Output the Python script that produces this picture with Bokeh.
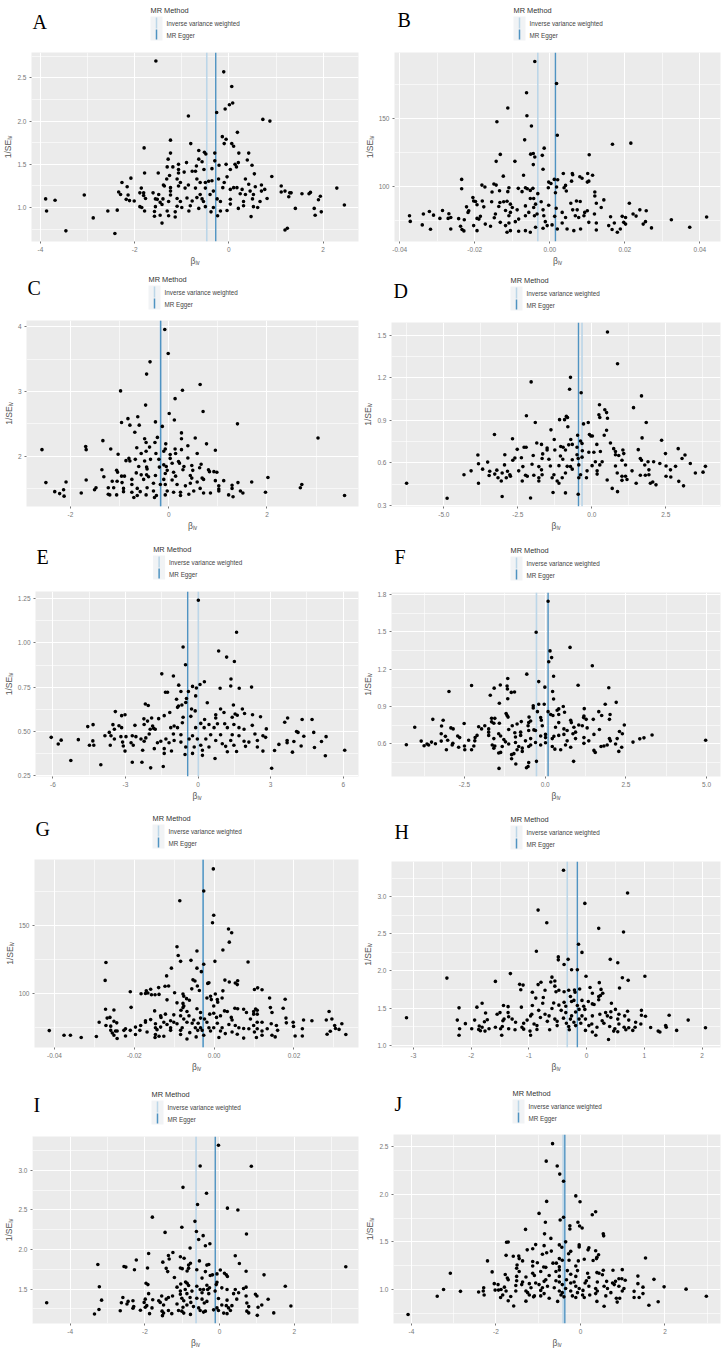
from bokeh.core.properties import value
from bokeh.embed import file_html
from bokeh.layouts import column, row
from bokeh.models import FixedTicker, Span
from bokeh.plotting import figure
from bokeh.resources import INLINE

# (beta_iv, 1/se_iv), one list per panel
A_POINTS = [(-1.55,2.695),(-.11,2.57),(.06,2.40),(.08,2.21),(.01,2.19),(-.08,2.14),(-.26,2.10),(-.86,2.06),(.72,2.02),(.87,2.00),(.18,1.87),(-.14,1.82),(-.06,1.79),(-1.24,1.78),(-.81,1.74),(-1.80,1.69),(-.10,1.74),(.06,1.74),(.10,1.71),(-.64,1.66),(-.52,1.64),(-.49,1.62),(-.30,1.63),(-1.24,1.63),(.21,1.63),(.42,1.63),(-1.29,1.56),(-.64,1.56),(-.57,1.53),(-.90,1.52),(.39,1.55),(.20,1.52),(.13,1.50),(-.06,1.50),(.49,1.49),(-.21,1.49),(-.30,1.54),(-1.07,1.50),(-1.31,1.47),(-1.19,1.47),(-.69,1.48),(.16,1.47),(.03,1.44),(-.36,1.45),(-.53,1.44),(-1.07,1.44),(-.95,1.41),(-.78,1.42),(-.71,1.42),(-1.79,1.40),(-1.50,1.40),(-1.07,1.40),(.54,1.39),(-1.26,1.37),(-2.08,1.34),(.91,1.36),(-.04,1.355),(.35,1.33),(-1.32,1.33),(-1.10,1.33),(-.68,1.33),(-.22,1.33),(-2.27,1.29),(-1.39,1.26),(-1.03,1.29),(-.61,1.29),(-.50,1.29),(-.36,1.31),(-.43,1.305),(-.10,1.29),(-2.16,1.24),(-1.37,1.25),(-1.07,1.25),(-.86,1.26),(.42,1.27),(.69,1.26),(.56,1.24),(-.13,1.23),(.10,1.23),(.17,1.23),(1.11,1.25),(2.29,1.225),(-1.86,1.225),(-1.24,1.23),(-.93,1.225),(-.71,1.225),(-.50,1.225),(.03,1.21),(.28,1.21),(.76,1.21),(.45,1.19),(-2.34,1.18),(-1.89,1.17),(-1.81,1.17),(-1.61,1.17),(-1.24,1.19),(-.33,1.19),(.69,1.19),(1.19,1.19),(1.11,1.18),(1.29,1.17),(1.32,1.17),(1.55,1.16),(1.70,1.16),(1.73,1.175),(-2.30,1.15),(-3.07,1.145),(-2.14,1.145),(-1.81,1.14),(-1.49,1.15),(-1.24,1.145),(-.61,1.15),(-.40,1.15),(.24,1.16),(.52,1.15),(.35,1.15),(1.94,1.13),(1.27,1.125),(-1.77,1.105),(-2.18,1.095),(-3.89,1.10),(-3.69,1.085),(-1.56,1.10),(-1.52,1.095),(-1.40,1.10),(-1.10,1.105),(-.89,1.11),(-.68,1.115),(-.57,1.10),(-.25,1.10),(.03,1.095),(.50,1.10),(.81,1.105),(1.90,1.09),(-2.11,1.08),(-2.01,1.075),(-1.46,1.06),(-1.28,1.07),(-1.03,1.07),(-.78,1.075),(-.54,1.07),(.31,1.07),(.66,1.07),(-.18,1.07),(-1.89,1.01),(-1.85,1.0),(-1.79,.96),(-1.56,1.01),(-1.42,1.035),(-1.10,1.015),(-1.00,1.0),(-.82,1.02),(-.64,.99),(-.50,1.01),(-.33,1.0),(.03,1.04),(.20,.99),(.31,1.02),(.52,1.01),(.61,1.0),(1.41,.99),(1.81,.99),(2.45,1.03),(-3.87,.96),(-2.57,.96),(-2.37,.97),(-1.58,.955),(-1.31,.96),(-1.14,.95),(-.85,.96),(-.38,.95),(-.18,.96),(-.04,.965),(1.96,.95),(1.83,.91),(-1.58,.90),(-1.46,.91),(-1.28,.905),(-1.14,.89),(-.24,.905),(.47,.895),(-2.88,.88),(-1.42,.82),(-3.46,.73),(-2.42,.70),(1.19,.74),(1.24,.76)]

B_POINTS = [(-.004,191.7),(.0018,175.5),(-.0062,168.7),(-.0112,157.5),(-.0061,151.7),(-.0141,147.3),(-.0049,144.2),(.002,137.4),(-.0067,134),(.0167,130.8),(.0216,131.6),(-.0015,127.9),(-.0132,123.3),(-.0051,123.5),(-.0044,124),(-.004,121.4),(-.002,122.6),(.0105,123),(-.0143,118.2),(-.0093,118.2),(-.0044,115.8),(-.0018,112.4),(-.0124,107.3),(-.007,108),(.0036,109.2),(.006,109.2),(.0061,108.3),(.008,106.8),(.0086,105.8),(.0101,109.2),(.0114,108),(-.0235,104.9),(-.0235,98),(-.0181,100.7),(-.0173,99.3),(-.0149,101.5),(-.0143,100.7),(-.0003,102.9),(.0003,101.9),(.0012,104.9),(.0021,104.6),(.0058,103.6),(.01,102.9),(.0104,103.6),(-.0004,98.8),(.0018,99.3),(.0042,100.5),(.0038,98.8),(.012,95.6),(.012,92.7),(.0144,89.8),(.0124,87.4),(.0212,87.4),(-.0134,96.6),(-.0154,95.6),(-.0109,98.8),(-.0112,95.9),(-.0084,98.3),(-.0074,95.9),(-.0065,98.8),(-.006,98),(-.0045,98.3),(-.0052,96.8),(-.0032,94.4),(.0044,96.4),(.0015,95.1),(-.0205,91.5),(-.0203,89),(-.0198,88.6),(-.018,89),(-.0155,88.4),(-.0133,87.9),(-.0123,88.4),(-.0114,88.8),(-.0105,86.7),(-.0052,90.8),(-.0043,90.8),(-.0023,88.4),(-.0038,86.7),(.0056,87.4),(.0071,89),(.0081,88.6),(-.0222,84.7),(-.0194,86.2),(-.0176,84.7),(-.0136,85),(-.01,84.2),(-.0087,82.5),(-.0065,85.4),(-.0043,84.2),(-.0003,85.9),(.0017,83.7),(.0061,82.5),(.0073,82.5),(.01,81.8),(.0137,84.2),(-.0216,81.8),(-.0218,80.6),(-.0118,82),(-.0105,80.6),(-.0056,80.6),(-.0018,82.5),(.0033,80.6),(.0093,80.6),(.0119,79.4),(.024,82.5),(.0257,81.8),(-.0374,78.2),(-.0337,79.4),(-.0321,81.3),(-.031,78.6),(-.0286,82),(-.0269,79.6),(-.0372,74),(-.0293,76.2),(-.0271,76.2),(-.0264,76.9),(-.0243,76),(-.0228,75.2),(-.0194,76.2),(-.0189,75.7),(-.0185,77.7),(-.0145,79.4),(-.0148,76.7),(-.0109,78.2),(-.0083,75.7),(-.0065,78.2),(-.0041,78.2),(-.0034,79.4),(-.0016,78.2),(.0013,77.7),(.0042,76.9),(.0068,78.2),(.0077,76.9),(.0091,78.2),(.0162,77.4),(.0193,77.7),(.0222,79.4),(.023,77.9),(.0202,76.9),(.0418,77.2),(.0324,75.2),(-.034,71.4),(-.0318,68.2),(-.0264,68.4),(-.0238,70.4),(-.0234,68),(-.0229,67),(-.0203,70.9),(-.0194,67.2),(-.0172,72),(-.0158,70.4),(-.0132,73.3),(-.0118,70.9),(-.0114,66),(-.0105,67.2),(-.0083,66.7),(-.0065,67.2),(-.0052,66),(-.0038,69.7),(-.0018,68.9),(-.0007,70.9),(.0006,71.4),(.002,68.4),(.0033,72.8),(.0046,68.4),(.0064,67.2),(.0082,68.4),(.0104,73.3),(.0124,72.8),(.0124,67.7),(.0157,70.9),(.0166,68),(.018,66),(.0188,68.4),(.0172,72.8),(.0249,72),(.0255,73.8),(.0271,69.2),(.0373,69.7),(.0197,73.3),(.0202,72),(-.0012,73.8),(-.0109,72.8),(-.0092,73.8)]

C_POINTS = [(-.08,3.96),(-.01,3.59),(-.38,3.46),(-.45,3.27),(-.98,3.01),(.28,3.02),(.64,3.11),(.13,2.89),(-.47,2.79),(.70,2.69),(.01,2.66),(-.63,2.61),(-.83,2.58),(.115,2.56),(-.96,2.52),(-.27,2.53),(-.79,2.48),(-.60,2.48),(1.40,2.50),(-.13,2.46),(-.69,2.37),(.26,2.36),(-.49,2.27),(-.23,2.29),(.26,2.27),(.54,2.28),(-1.34,2.24),(-.46,2.21),(-.28,2.21),(.77,2.19),(-.06,2.19),(-.39,2.14),(-.65,2.13),(.39,2.16),(-1.69,2.15),(-1.68,2.10),(-2.58,2.10),(-1.18,2.11),(-.07,2.11),(.13,2.11),(.26,2.10),(.95,2.09),(-.46,2.075),(-1.03,2.03),(-.56,2.04),(-.26,2.04),(-.10,2.075),(.58,2.04),(.03,2.025),(.14,2.04),(3.04,2.28),(-.81,1.965),(-.79,1.925),(-.87,1.93),(-.68,1.95),(-.49,1.925),(-.37,1.95),(-.20,1.95),(.03,1.965),(.20,1.915),(.39,1.97),(.22,1.89),(.66,1.875),(-.10,1.865),(-.05,1.84),(.07,1.89),(.31,1.84),(.47,1.855),(.63,1.82),(-.45,1.83),(-.61,1.84),(-.19,1.83),(-1.36,1.79),(-1.06,1.78),(-1.04,1.75),(-.44,1.80),(-.03,1.78),(.10,1.75),(.29,1.79),(.49,1.78),(.81,1.79),(.83,1.76),(.92,1.76),(.98,1.75),(-.66,1.74),(-.56,1.71),(-.45,1.71),(-.27,1.70),(-.07,1.73),(.44,1.70),(-1.32,1.68),(-.96,1.69),(-.90,1.69),(2.02,1.67),(-.41,1.68),(.14,1.69),(.47,1.66),(.68,1.66),(-1.68,1.63),(-1.15,1.61),(-1.05,1.61),(-.75,1.64),(-.51,1.64),(1.12,1.62),(.71,1.64),(.95,1.62),(-.10,1.64),(.07,1.63),(-2.50,1.59),(-2.09,1.60),(1.69,1.60),(1.41,1.59),(.58,1.60),(2.71,1.56),(-.95,1.59),(-.75,1.56),(-.31,1.58),(-.17,1.56),(-.07,1.56),(.17,1.56),(.44,1.58),(1.29,1.55),(1.02,1.54),(-1.48,1.51),(-1.51,1.48),(-1.23,1.51),(-1.12,1.51),(-.92,1.50),(-.64,1.50),(-.44,1.51),(.34,1.54),(.64,1.50),(2.68,1.51),(1.29,1.50),(1.02,1.49),(-2.32,1.45),(-2.22,1.42),(-2.14,1.48),(-1.78,1.43),(-1.23,1.41),(-1.06,1.40),(-.92,1.45),(-.75,1.44),(-.58,1.45),(-.31,1.46),(-.03,1.46),(.10,1.44),(.24,1.44),(.51,1.46),(.71,1.43),(.85,1.43),(1.02,1.46),(1.46,1.46),(1.51,1.43),(1.97,1.44),(-2.13,1.38),(-1.20,1.40),(-.71,1.36),(-.64,1.39),(-.46,1.40),(-.29,1.36),(-.25,1.39),(-.07,1.40),(.24,1.39),(.41,1.41),(1.22,1.40),(1.31,1.37),(3.58,1.39)]

D_POINTS = [(.53,1.525),(.87,1.30),(-.72,1.204),(-2.05,1.172),(-.75,1.12),(-.36,1.095),(1.68,1.073),(1.41,.99),(.26,1.01),(.44,.975),(.50,.955),(.53,.915),(.24,.94),(.27,.92),(-2.21,.933),(-.86,.928),(-.82,.92),(-1.09,.905),(-.92,.905),(-1.91,.885),(1.84,.885),(-.28,.875),(-.12,.885),(-.81,.855),(-1.38,.833),(.50,.83),(-3.29,.80),(-.08,.80),(-.03,.79),(.02,.79),(.42,.795),(-.48,.795),(-2.68,.77),(-1.27,.765),(-.71,.765),(1.70,.776),(2.36,.76),(-.38,.754),(-.33,.736),(-1.86,.74),(-1.70,.73),(-.78,.727),(.63,.74),(-1.05,.715),(-.97,.71),(-2.29,.71),(-2.22,.71),(-1.51,.705),(-.50,.71),(-.66,.73),(.17,.73),(-1.51,.69),(-2.52,.695),(-1.25,.69),(-.89,.69),(-.32,.685),(.74,.70),(1.05,.69),(1.57,.693),(2.92,.70),(-.10,.675),(.07,.675),(.29,.68),(.80,.68),(1.08,.665),(2.49,.665),(3.15,.655),(-3.85,.655),(-2.94,.657),(-1.98,.652),(-1.66,.663),(-1.06,.648),(-.50,.657),(.80,.657),(.91,.652),(-.33,.64),(1.64,.63),(-2.60,.634),(-2.38,.636),(3.05,.63),(-3.52,.605),(-3.83,.593),(2.09,.607),(-2.67,.618),(-1.68,.63),(-1.45,.625),(-.98,.625),(-.66,.622),(-.46,.63),(.12,.607),(.35,.607),(1.02,.618),(1.68,.618),(1.90,.607),(3.33,.595),(2.30,.595),(2.83,.575),(3.84,.575),(-3.69,.555),(-3.21,.548),(-2.95,.585),(-2.33,.573),(-2.02,.59),(-1.79,.573),(-1.40,.577),(-1.11,.58),(-.83,.575),(-.72,.573),(-.44,.585),(.01,.58),(.27,.585),(.80,.577),(1.14,.585),(1.79,.585),(2.51,.577),(2.66,.55),(-4.08,.543),(-3.45,.54),(-3.03,.528),(-2.85,.54),(-2.47,.543),(-1.70,.55),(-.66,.555),(-.16,.543),(.18,.543),(1.36,.543),(1.93,.55),(-4.32,.516),(-3.28,.52),(-2.77,.516),(-2.24,.512),(-1.96,.512),(-1.68,.516),(-1.28,.516),(-.89,.528),(-.38,.516),(.18,.52),(.86,.528),(1.14,.505),(1.64,.512),(1.93,.516),(3.50,.528),(3.76,.534),(-3.47,.51),(-3.17,.494),(-2.89,.494),(-2.75,.505),(-2.18,.505),(-1.79,.494),(-1.34,.494),(-1.0,.494),(-.44,.494),(-.18,.494),(1.02,.505),(1.81,.512),(2.51,.505),(2.67,.50),(-3.06,.471),(-2.35,.471),(-1.79,.471),(-1.17,.471),(.52,.478),(1.02,.476),(1.19,.482),(2.94,.469),(-3.83,.455),(-6.26,.455),(-1.11,.455),(1.50,.455),(1.98,.455),(2.06,.464),(2.17,.444),(3.10,.437),(.69,.419),(.87,.396),(-1.31,.39),(-.89,.387),(-3.03,.362),(-2.07,.351),(-4.89,.349),(-.46,.378)]

E_POINTS = [(.01,1.242),(1.59,1.061),(-.62,.977),(.85,.955),(1.18,.92),(1.50,.895),(-.52,.877),(-1.50,.825),(-1.02,.813),(1.36,.796),(.26,.78),(.08,.765),(-.80,.761),(-.23,.754),(-.07,.745),(.91,.743),(1.35,.756),(1.70,.743),(2.21,.75),(-1.35,.721),(-1.26,.721),(-.71,.725),(-.40,.725),(-.10,.70),(-.89,.681),(-.48,.685),(-.51,.663),(.38,.661),(-2.18,.654),(-2.06,.646),(-.85,.635),(-.81,.643),(-.67,.648),(1.46,.648),(-.27,.626),(.93,.626),(1.83,.626),(-3.42,.611),(-1.17,.606),(-.12,.615),(1.07,.606),(-3.02,.593),(-3.16,.588),(2.25,.593),(1.53,.597),(1.62,.59),(1.92,.60),(-1.40,.588),(-.30,.584),(.73,.593),(2.58,.582),(-2.24,.57),(-1.92,.575),(-1.63,.571),(-.62,.579),(.27,.566),(.73,.575),(1.41,.579),(4.30,.566),(4.71,.566),(3.70,.575),(3.58,.551),(-4.56,.526),(-4.34,.537),(-3.52,.537),(-3.27,.531),(-3.16,.52),(-2.61,.533),(-2.23,.538),(-2.09,.557),(-1.88,.529),(-1.84,.516),(-.99,.529),(-.65,.548),(.11,.544),(.45,.538),(.80,.542),(1.10,.542),(1.48,.538),(2.24,.533),(2.82,.513),(-3.46,.511),(-1.98,.511),(-1.77,.511),(-1.13,.52),(-.85,.52),(-.10,.52),(.25,.52),(.66,.52),(1.21,.52),(1.69,.52),(1.90,.511),(4.07,.498),(4.13,.493),(4.78,.493),(-6.07,.465),(-5.66,.449),(-5.78,.427),(-4.95,.452),(-3.67,.493),(-3.85,.474),(-3.60,.474),(-3.19,.469),(-2.98,.469),(-2.72,.474),(-2.57,.469),(-2.02,.484),(-1.02,.484),(-.71,.48),(-.23,.474),(.52,.48),(.93,.48),(1.41,.48),(1.69,.474),(2.35,.484),(2.68,.474),(2.79,.465),(4.37,.471),(5.29,.469),(-4.35,.445),(-3.46,.456),(-2.36,.456),(-2.16,.462),(-1.54,.443),(-1.33,.456),(-.99,.447),(-.37,.456),(-.03,.456),(.32,.456),(.73,.447),(1.35,.447),(1.90,.443),(2.45,.447),(3.68,.447),(3.96,.441),(5.10,.441),(-4.49,.42),(-4.31,.42),(-3.63,.42),(-3.12,.438),(-2.77,.434),(-2.23,.443),(-1.68,.434),(-1.20,.434),(-.71,.438),(.11,.42),(.45,.41),(1.0,.429),(1.48,.42),(2.10,.438),(3.34,.425),(3.68,.434),(-3.09,.416),(-2.68,.42),(-1.40,.401),(-1.81,.401),(-.51,.41),(-.16,.41),(1.14,.414),(1.96,.414),(2.45,.41),(4.26,.416),(4.81,.407),(-3.02,.387),(-2.29,.392),(-1.10,.388),(.18,.392),(1.21,.383),(1.59,.385),(2.68,.387),(3.16,.39),(3.90,.381),(6.06,.392),(-.54,.368),(-.23,.374),(.18,.363),(-1.40,.374),(5.26,.361),(-5.26,.334),(.70,.345),(-2.72,.324),(-2.32,.324),(-4.02,.31),(-1.96,.292),(-1.44,.30),(3.04,.29)]

F_POINTS = [(.09,1.747),(-.28,1.497),(.15,1.347),(.20,1.293),(.77,1.375),(.11,1.26),(1.46,1.228),(-.57,1.16),(.26,1.143),(-1.16,1.125),(-.20,1.10),(-1.39,1.073),(1.02,1.07),(-2.28,1.068),(-1.18,1.065),(-.01,1.055),(-1.58,1.047),(-1.17,1.04),(1.97,1.05),(-2.98,1.02),(-1.05,1.013),(-.95,1.016),(.23,1.02),(-1.70,.99),(-1.16,.962),(.26,.96),(-1.42,.926),(-.20,.918),(-.03,.918),(1.86,.918),(2.20,.933),(-.37,.905),(-.37,.887),(.56,.90),(.42,.88),(.37,.869),(1.21,.882),(.60,.853),(-.24,.858),(.09,.858),(1.66,.858),(-1.21,.843),(-1.18,.827),(-1.15,.814),(.17,.835),(.24,.827),(.42,.835),(1.20,.822),(1.75,.827),(2.01,.835),(-.50,.814),(-1.66,.804),(-1.56,.804),(-.14,.81),(-.12,.789),(1.19,.81),(1.99,.796),(-3.48,.796),(-3.16,.789),(-1.66,.776),(-1.59,.765),(-1.42,.765),(-.74,.778),(-.51,.77),(-.45,.783),(.79,.789),(.81,.77),(1.27,.796),(1.49,.796),(.42,.77),(-2.51,.763),(-4.04,.732),(-3.21,.742),(-2.06,.737),(-1.87,.745),(-1.02,.745),(-.87,.758),(-.53,.745),(-.09,.745),(1.04,.75),(1.15,.745),(2.45,.75),(-2.92,.727),(-2.85,.719),(-1.97,.719),(-1.75,.719),(-1.13,.714),(-.51,.706),(-.35,.711),(.32,.732),(.58,.719),(.89,.732),(1.30,.727),(1.68,.714),(-3.22,.68),(-1.75,.693),(-1.44,.68),(-.94,.688),(-.76,.693),(-.30,.706),(.68,.706),(.94,.693),(2.30,.698),(2.39,.68),(-2.71,.662),(-2.11,.667),(-1.75,.667),(-1.38,.662),(-.76,.667),(-.14,.662),(.01,.675),(.27,.659),(.58,.675),(.86,.68),(1.20,.649),(1.51,.675),(-3.09,.659),(-2.65,.649),(-2.17,.649),(-1.59,.641),(-1.28,.634),(-.92,.654),(-.45,.641),(.01,.649),(.22,.641),(.42,.667),(.94,.641),(1.99,.641),(2.23,.641),(-3.84,.621),(-3.22,.621),(-3.02,.628),(-3.52,.613),(-2.37,.628),(-2.18,.623),(-1.23,.615),(-.92,.61),(-.61,.623),(-.30,.61),(.01,.608),(.68,.623),(1.35,.623),(2.02,.623),(2.93,.639),(3.06,.647),(3.31,.67),(4.97,.628),(2.72,.613),(-4.30,.592),(-3.75,.584),(-3.66,.597),(-3.61,.59),(-3.40,.60),(-2.86,.603),(-2.88,.59),(-2.21,.582),(-1.64,.59),(-1.56,.582),(-1.13,.597),(-.82,.577),(-.45,.59),(-.14,.59),(.22,.577),(.63,.59),(1.20,.603),(1.92,.59),(2.18,.597),(-2.68,.572),(-2.50,.582),(-2.28,.551),(-2.49,.551),(-3.06,.551),(-1.59,.564),(-1.33,.577),(-.71,.564),(-.51,.577),(.30,.556),(.48,.551),(.79,.572),(1.73,.577),(1.82,.582),(2.37,.572),(2.28,.538),(-.87,.551),(-1.38,.53),(-1.44,.525),(-.71,.538),(1.51,.546),(1.55,.53),(-.97,.52),(-1.04,.512),(-1.04,.479),(.88,.458),(-.27,.458),(-.91,.437),(-.51,.448),(-.53,.417),(-.58,.406),(-1.43,.401)]

G_POINTS = [(-.0002,191.7),(-.0026,175.5),(-.0086,168.3),(-.0001,157.6),(-.0004,152.1),(.0036,147.6),(.0044,144.8),(.0038,137.9),(-.0093,134.5),(.0022,132.1),(-.0043,131.4),(-.009,128.1),(-.0058,124.5),(-.0084,123.8),(.0002,123.8),(.0085,123.3),(-.0271,122.9),(-.0026,121.7),(-.0107,118.8),(-.0043,118.8),(-.0032,116.2),(-.0119,113.1),(-.0273,109.8),(-.0053,110.2),(-.0048,109.3),(.0027,110),(.0038,108.6),(-.0013,108.1),(-.0016,107.6),(.0053,107.9),(.0059,109.5),(.0058,106.7),(-.0123,105.5),(-.0114,105.7),(-.0042,105.7),(-.0139,104.5),(-.0159,103.3),(-.017,102.1),(-.021,101.4),(-.0099,100.7),(-.0056,103.6),(-.0037,102.4),(.0022,102.1),(.0101,103.1),(.0109,104.3),(.012,102.9),(-.0183,100),(-.0172,100.2),(-.0166,100.5),(-.0157,99.3),(-.0148,99.3),(-.0138,99.5),(-.0078,99.8),(-.0076,98.1),(-.0018,96.9),(-.0009,98.1),(.0003,99.8),(-.0007,95.7),(.002,96.9),(-.0118,95.5),(-.0069,96.4),(-.0062,95.2),(.0008,95.7),(.0009,93.8),(.0139,96.9),(.0178,96),(-.0093,93.3),(-.0078,92.9),(-.0076,91),(-.0208,90),(-.0078,89.8),(-.0001,91),(.0141,89.8),(-.0149,87.4),(-.0272,88.6),(-.0251,88.1),(-.0083,87.9),(-.0043,89),(-.0068,86.9),(.0026,87.4),(.0033,86.9),(.0052,89.3),(.0059,89),(.0074,88.6),(.0104,88.8),(.0108,87.9),(.0173,89.3),(.0288,86.9),(.0081,86.2),(.0099,86.9),(.0145,86.2),(-.0001,85.7),(-.0011,85),(-.0034,86.2),(-.0122,85),(-.0101,84.5),(-.0084,83.8),(-.0063,83.8),(.0016,83.8),(.0108,85),(.0099,85),(-.0134,83.8),(-.0268,82.1),(-.0261,82.6),(-.0133,82.6),(-.0076,81.4),(-.0034,82.1),(.0006,82.6),(.0043,82.6),(.018,82.1),(.0091,81.4),(.0295,81.4),(-.0159,81),(-.0172,80.2),(-.0109,80.2),(-.0051,80.7),(-.0024,81.4),(.0045,80.7),(.0224,80.7),(.0245,80.2),(.0281,80.7),(-.0288,79),(-.0251,79.8),(-.0244,78.6),(-.0172,79),(-.0126,79),(-.0101,79),(-.0068,79),(-.0055,78.3),(-.0018,79),(.0008,78.3),(.0108,79),(.012,79),(.0198,79),(.032,77.9),(.0181,78.6),(-.0271,76.7),(-.0259,76.2),(-.0184,76.7),(-.0147,77.9),(-.0118,77.4),(-.0093,77.9),(-.004,78.3),(.0037,77.4),(.0053,76.7),(.0099,76.7),(.0143,77.9),(.0156,76.7),(.0199,76),(.0302,76.7),(-.0222,74.3),(-.0197,75.5),(-.0147,75),(-.0134,75.5),(-.0109,75),(-.008,75),(-.0047,75),(-.0034,75),(-.0013,75),(-.0001,75),(.002,75),(.0062,75),(.0074,74.5),(.0087,74.3),(.0221,74.3),(.0108,74.3),(.0133,74.3),(.0304,74.5),(.0313,73.8),(-.0413,72.9),(-.0376,69.5),(-.036,69.5),(-.0333,67.9),(-.0295,68.6),(-.0259,73.1),(-.0247,72.6),(-.0243,72.6),(-.0255,71.2),(-.0226,73.1),(-.021,73.1),(-.0186,73.1),(-.0168,71.9),(-.0143,73.6),(-.0109,73.1),(-.0084,73.1),(-.0061,71.4),(-.0041,73.1),(-.003,73.1),(-.0009,72.6),(.0016,72.6),(.0045,71.9),(.0101,71.9),(.012,72.6),(.0159,73.1),(.0291,72.4),(-.0251,69.5),(-.0222,69),(-.0197,70),(-.0147,70),(-.0126,68.8),(-.0084,70),(-.0026,69.5),(.0028,70.7),(.0058,70.2),(.012,69.5),(.0145,69.5),(.0153,68.3),(.0203,69),(.0221,69),(.0283,70.2),(.033,70),(-.0243,67.1),(-.0148,67.9),(-.0138,68.8),(-.0068,66.7),(-.0045,68.3),(.0012,67.9),(.0074,67.4),(.0106,67.9)]

H_POINTS = [(-.40,3.357),(.71,3.05),(-.03,2.91),(-.84,2.82),(-.69,2.65),(.21,2.574),(.64,2.526),(-.14,2.36),(-.87,2.265),(-.08,2.25),(-.49,2.19),(-.49,2.15),(-.32,2.157),(.41,2.157),(.54,2.11),(-.39,2.087),(-.26,2.017),(-.16,2.017),(-1.32,1.965),(-2.42,1.904),(-.60,1.917),(-.01,1.93),(.62,1.91),(1.01,1.93),(.72,1.874),(-1.58,1.86),(-.62,1.852),(-.55,1.865),(-.79,1.848),(.22,1.843),(-.84,1.817),(-1.16,1.82),(-1.10,1.81),(-.55,1.796),(-1.14,1.748),(.06,1.778),(.25,1.752),(.57,1.77),(-.12,1.757),(-.72,1.74),(-.48,1.74),(-.39,1.72),(-.31,1.74),(-.21,1.743),(-.94,1.713),(-.53,1.72),(-.20,1.713),(.10,1.70),(.28,1.70),(.24,1.67),(.21,1.657),(-.28,1.657),(-.75,1.643),(-.88,1.635),(-.22,1.604),(-.08,1.604),(-.26,1.59),(.03,1.59),(.21,1.613),(-.76,1.565),(-1.81,1.565),(-.57,1.57),(-.39,1.578),(.10,1.557),(.43,1.565),(-1.90,1.513),(-1.44,1.535),(-1.36,1.52),(-1.13,1.513),(-.94,1.535),(-2.21,1.504),(-.48,1.54),(-.36,1.526),(-.16,1.535),(-.05,1.526),(.13,1.548),(.50,1.483),(.95,1.47),(-.60,1.496),(-.83,1.47),(-.44,1.47),(-.13,1.483),(-.03,1.483),(.71,1.457),(-1.50,1.44),(-1.55,1.417),(-1.75,1.435),(-1.36,1.44),(-.95,1.417),(-.72,1.417),(-.36,1.44),(-.19,1.448),(.23,1.417),(.33,1.44),(.42,1.452),(.56,1.417),(1.43,1.404),(.95,1.404),(1.02,1.39),(-.97,1.396),(-1.35,1.383),(-.80,1.374),(-.65,1.396),(-.26,1.396),(-.08,1.396),(.10,1.396),(.36,1.396),(.42,1.374),(.66,1.396),(-1.43,1.352),(-1.72,1.343),(-1.94,1.339),(-2.24,1.339),(-3.12,1.37),(-1.29,1.352),(-1.03,1.339),(-.55,1.352),(-.40,1.365),(-.28,1.352),(-.13,1.352),(-.02,1.352),(.27,1.33),(.54,1.352),(.73,1.339),(1.76,1.339),(-1.77,1.317),(-2.10,1.291),(-1.86,1.26),(-1.45,1.33),(-1.23,1.309),(-1.09,1.296),(-.91,1.287),(-.68,1.322),(-.51,1.322),(-.35,1.296),(-.22,1.309),(-.10,1.296),(.09,1.287),(.30,1.296),(.56,1.287),(.85,1.309),(.94,1.287),(-2.20,1.222),(-1.99,1.222),(-1.81,1.243),(-1.69,1.222),(-1.58,1.243),(-1.46,1.252),(-1.35,1.222),(-1.12,1.243),(-.86,1.265),(-.51,1.265),(-.31,1.252),(-.19,1.265),(.04,1.265),(.18,1.243),(.40,1.252),(.65,1.243),(.73,1.235),(.84,1.243),(1.11,1.239),(1.37,1.265),(1.38,1.243),(2.06,1.235),(-1.87,1.213),(-1.84,1.196),(-1.76,1.191),(-1.49,1.222),(-1.24,1.209),(-1.09,1.217),(-.98,1.191),(-.86,1.213),(-.64,1.209),(-.30,1.209),(-.02,1.20),(.10,1.178),(.49,1.222),(.47,1.191),(.54,1.183),(.68,1.209),(.80,1.20),(1.24,1.191),(1.27,1.178),(1.56,1.20),(-2.21,1.135),(-1.47,1.135),(-.97,1.135),(.16,1.135),(.38,1.078)]

I_POINTS = [(-.03,3.316),(-.52,3.054),(.85,3.05),(-.98,2.784),(-.35,2.71),(-.59,2.567),(.21,2.522),(.49,2.498),(-1.80,2.408),(-.66,2.355),(-1.01,2.281),(-.62,2.228),(-1.46,2.216),(.72,2.195),(-.44,2.175),(-.56,2.126),(-.26,2.073),(-.38,2.048),(-.79,2.019),(-1.90,1.95),(-1.25,1.962),(-1.05,1.909),(-.95,1.889),(-1.37,1.925),(.42,1.921),(-1.35,1.88),(-2.23,1.868),(-1.52,1.84),(-.54,1.856),(-3.26,1.811),(.53,1.823),(-.78,1.827),(-.83,1.803),(-.34,1.803),(-.29,1.811),(-2.56,1.786),(-2.51,1.778),(3.38,1.782),(-1.93,1.766),(-1.43,1.762),(-1.05,1.766),(-1.0,1.758),(-.83,1.762),(-2.28,1.745),(-.61,1.745),(-1.39,1.721),(.71,1.725),(-.87,1.729),(-.38,1.721),(.02,1.741),(.13,1.70),(.18,1.68),(-.07,1.692),(-.25,1.672),(-.19,1.68),(1.19,1.68),(-1.21,1.647),(-.47,1.639),(.21,1.66),(-1.97,1.574),(-1.92,1.557),(-.91,1.59),(-.87,1.574),(-.07,1.586),(-1.04,1.565),(-.09,1.557),(-.34,1.549),(-3.22,1.529),(1.76,1.537),(-1.14,1.525),(-.83,1.545),(-.61,1.537),(-.27,1.516),(.71,1.525),(.64,1.508),(.06,1.516),(.42,1.496),(-.52,1.496),(-.43,1.496),(-.32,1.496),(.20,1.496),(-1.05,1.475),(-.92,1.496),(-.74,1.475),(-.12,1.475),(-1.90,1.443),(-1.05,1.435),(-.875,1.443),(-.47,1.455),(-.29,1.443),(.375,1.443),(.51,1.455),(.71,1.414),(.96,1.435),(1.0,1.414),(-1.55,1.414),(-1.26,1.414),(-1.37,1.394),(-2.59,1.394),(-1.99,1.373),(-1.79,1.365),(-1.63,1.353),(-1.43,1.373),(-1.01,1.385),(-.79,1.394),(-.61,1.385),(-.47,1.373),(-.03,1.381),(.20,1.361),(.46,1.373),(1.30,1.373),(-3.16,1.361),(-4.63,1.328),(-2.63,1.328),(-2.45,1.345),(-2.32,1.353),(-2.02,1.332),(-1.59,1.332),(-.96,1.353),(-.77,1.332),(-.34,1.345),(-.41,1.324),(.73,1.324),(-2.48,1.312),(-1.50,1.30),(-1.95,1.291),(-1.14,1.312),(-.875,1.30),(.06,1.30),(.18,1.291),(.33,1.291),(1.13,1.30),(1.91,1.287),(-2.30,1.279),(-1.99,1.271),(-1.81,1.263),(-.98,1.271),(-.70,1.279),(-.56,1.263),(-.07,1.263),(.24,1.263),(.78,1.279),(1.03,1.271),(-2.32,1.259),(-3.23,1.242),(-2.66,1.226),(-2.12,1.234),(-1.54,1.222),(-1.37,1.23),(-1.10,1.23),(-1.01,1.222),(-.52,1.23),(-.38,1.222),(-.16,1.238),(-.03,1.23),(.29,1.23),(.73,1.222),(-3.35,1.185),(-1.875,1.19),(-1.50,1.197),(-1.53,1.165),(-1.28,1.19),(-.96,1.197),(-.78,1.181),(-.43,1.21),(.11,1.197),(.20,1.19),(.78,1.20),(1.45,1.20),(1.01,1.169)]

J_POINTS = [(-.66,2.532),(-.81,2.348),(-.55,2.297),(-.49,2.212),(-.40,2.137),(-.11,1.983),(-.01,1.922),(-.80,1.925),(.36,1.816),(.28,1.785),(-.98,1.799),(-.40,1.758),(-.48,1.73),(-.83,1.706),(-.06,1.706),(-.02,1.666),(.04,1.645),(-.25,1.669),(-.25,1.635),(-1.30,1.631),(.54,1.584),(.55,1.563),(-.85,1.584),(-.70,1.536),(-.35,1.50),(-1.75,1.495),(-1.71,1.498),(-.03,1.468),(-.50,1.468),(-.86,1.46),(-1.06,1.471),(-.03,1.447),(-.44,1.444),(-1.13,1.427),(-1.26,1.416),(.20,1.437),(.18,1.416),(.36,1.406),(-.23,1.40),(-.28,1.375),(-.80,1.386),(-.69,1.403),(-.90,1.369),(.43,1.365),(-1.76,1.358),(-1.59,1.348),(-1.46,1.352),(1.54,1.331),(.39,1.338),(-1.45,1.324),(-1.37,1.30),(-2.20,1.30),(.30,1.304),(.38,1.324),(-.50,1.324),(-.43,1.307),(-.27,1.307),(.09,1.317),(-.05,1.30),(-1.13,1.294),(-1.02,1.28),(-.65,1.276),(-.57,1.276),(-1.50,1.256),(-1.13,1.246),(-.50,1.239),(-.11,1.246),(-.87,1.235),(-.82,1.232),(-1.51,1.222),(-1.45,1.188),(-2.09,1.184),(-3.08,1.17),(-.94,1.188),(-.58,1.188),(-.50,1.205),(-.31,1.198),(-.07,1.198),(.39,1.177),(.54,1.201),(.77,1.201),(.99,1.208),(-1.13,1.17),(-.23,1.16),(.17,1.17),(.44,1.17),(.52,1.154),(-1.78,1.157),(1.36,1.14),(-1.73,1.119),(-1.71,1.102),(-1.51,1.137),(-1.29,1.13),(-1.09,1.147),(-.74,1.147),(-.50,1.137),(-.11,1.137),(.20,1.126),(.91,1.113),(.98,1.113),(1.06,1.096),(1.74,1.106),(-1.51,1.092),(-1.37,1.078),(-.82,1.102),(-.58,1.092),(-.33,1.102),(-.15,1.078),(.14,1.092),(.62,1.085),(.83,1.085),(-2.04,1.061),(-1.95,1.051),(-1.21,1.061),(-1.06,1.068),(-.86,1.085),(-.50,1.078),(-.23,1.068),(.11,1.068),(.40,1.078),(.76,1.068),(1.36,1.061),(.80,1.051),(-1.53,1.041),(-1.39,1.051),(-.98,1.051),(-.78,1.034),(-.43,1.051),(-.11,1.034),(.20,1.034),(.56,1.034),(.91,1.034),(1.48,1.024),(1.98,1.027),(-2.29,1.017),(-1.80,1.024),(-1.17,1.017),(-.90,1.017),(-.62,1.017),(-.35,1.01),(-.03,1.01),(.36,1.01),(.64,1.01),(1.03,1.01),(-3.24,1.0),(-2.02,.993),(-1.94,.993),(-1.88,1.0),(2.50,1.003),(-2.30,.983),(-1.76,.983),(-1.53,.983),(-1.29,.983),(-.94,.99),(-.50,.983),(-.23,.983),(.06,.99),(.40,.983),(.99,.983),(-2.84,.98),(-2.41,.973),(1.27,.98),(-1.25,.966),(-.86,.956),(-.43,.966),(-.07,.966),(.36,.956),(.72,.966),(1.48,.956),(-2.28,.942),(-1.84,.942),(-1.21,.942),(-1.09,.932),(-.94,.932),(-.46,.942),(-.19,.932),(.05,.942),(.22,.942),(.60,.932),(-3.39,.928),(2.98,.928),(-1.89,.915),(-1.65,.925),(-1.11,.922),(-.74,.908),(-.39,.922),(-.11,.915),(.09,.915),(.85,.908),(.93,.908),(1.27,.915),(1.39,.915),(-1.71,.881),(-1.29,.877),(-.54,.874),(.39,.874),(.87,.867),(1.84,.87),(-1.58,.826),(.56,.823),(1.62,.833),(-4.08,.737)]

LEGEND_TITLE = "MR Method"
METHODS = ["Inverse variance weighted", "MR Egger"]
X_TITLE = "\u03b2\u1d62\u1d65"
Y_TITLE = "1/SE\u1d62\u1d65"

# tick labels, x estimates of the two MR methods
PANELS = {
    "A": (A_POINTS, ["-4", "-2", "0", "2"], ["1.0", "1.5", "2.0", "2.5"], -.47, -.28),
    "B": (B_POINTS, ["-0.04", "-0.02", "0.00", "0.02", "0.04"], ["100", "150"], -.0032, .0015),
    "C": (C_POINTS, ["-2", "0", "2"], ["2", "3", "4"], -.17, -.163),
    "D": (D_POINTS, ["-5.0", "-2.5", "0.0", "2.5"], ["0.3", "0.6", "0.9", "1.2", "1.5"], -.33, -.45),
    "E": (E_POINTS, ["-6", "-3", "0", "3", "6"], ["0.25", "0.50", "0.75", "1.00", "1.25"], .01, -.43),
    "F": (F_POINTS, ["-2.5", "0.0", "2.5", "5.0"], ["0.6", "0.9", "1.2", "1.5", "1.8"], -.27, .09),
    "G": (G_POINTS, ["-0.04", "-0.02", "0.00", "0.02"], ["100", "150"], -.0028, -.00275),
    "H": (H_POINTS, ["-3", "-2", "-1", "0", "1", "2"], ["1.0", "1.5", "2.0", "2.5", "3.0"], -.335, -.16),
    "I": (I_POINTS, ["-4", "-2", "0", "2"], ["1.5", "2.0", "2.5", "3.0"], -.63, -.116),
    "J": (J_POINTS, ["-4", "-2", "0", "2"], ["1.0", "1.5", "2.0", "2.5"], -.41, -.37),
}

# layout: x range, y range, frame (left, top, right, bottom on the page),
# legend key (left, top), panel letter (left, baseline)
LAYOUT = {
    "A": ((-4.19, 2.75), (.607, 2.794), (31, 52, 358, 243), (150, 16), (32, 21)),
    "B": ((-.0414, .0455), (59.2, 198.3), (394, 52, 720, 243), (513, 16), (397, 19)),
    "C": ((-2.895, 3.864), (1.22, 4.10), (26, 320, 358, 511), (148, 285), (27, 287)),
    "D": ((-6.77, 4.35), (.291, 1.592), (391, 322, 720, 513), (510, 286), (393, 290)),
    "E": ((-6.72, 6.63), (.243, 1.292), (34, 591, 358, 782), (152, 555), (35, 556)),
    "F": ((-4.76, 5.43), (.336, 1.817), (391, 592, 720, 783), (510, 556), (394, 556)),
    "G": ((-.045, .03617), (60.5, 198.6), (34, 859, 358, 1053), (152, 824), (35, 828)),
    "H": ((-3.38, 2.32), (.97, 3.474), (391, 861, 720, 1053), (510, 825), (394, 831)),
    "I": ((-5.01, 3.72), (1.066, 3.426), (32, 1136, 358, 1328), (151, 1100), (33, 1104)),
    "J": ((-4.425, 3.315), (.642, 2.628), (393, 1134, 720, 1328), (512, 1099), (394, 1103)),
}
ROW_EDGES = [0, 268, 533, 803, 1074, 1350]
COL_EDGES = [0, 360, 722]
TOP_PAD = 3  # room above the frame for half of a top tick label

FONT = "Liberation Sans"
IVW_COLOR = "#bcd6e8"
EGGER_COLOR = "#4f93c2"


def ticker_for(labels):
    ticks = [float(t) for t in labels]
    step = ticks[1] - ticks[0]
    minor = [t + step / 2 for t in [ticks[0] - step] + ticks]
    return ticks, FixedTicker(ticks=ticks, minor_ticks=minor)


def style_axis(axis, labels, ticks):
    axis.major_label_overrides = dict(zip(ticks, labels))
    axis.major_label_text_font = FONT
    axis.major_label_text_font_size = "6.5px"
    axis.major_label_text_color = "#777777"
    axis.major_label_standoff = 1
    axis.major_tick_line_color = "#777777"
    axis.major_tick_in = 0
    axis.major_tick_out = 2
    axis.minor_tick_line_color = None
    axis.axis_line_color = None
    axis.axis_label_text_font = FONT
    axis.axis_label_text_font_size = "8.5px"
    axis.axis_label_text_font_style = "normal"
    axis.axis_label_text_color = "#555555"
    axis.axis_label_standoff = 1


def make_header(name, col, row_idx):
    # strip above a panel with the letter and the legend, in page pixels;
    # the column lines its frame up with the panel's frame, so the x range is that of the frame
    _, _, frame, key, letter = LAYOUT[name]
    x0, x1 = COL_EDGES[col], COL_EDGES[col + 1]
    y0 = ROW_EDGES[row_idx]
    y1 = frame[1] - TOP_PAD
    h = figure(
        width=x1 - x0, height=y1 - y0,
        x_range=(frame[0], frame[2]), y_range=(y1, y0),
        min_border=0, min_border_left=frame[0] - x0, min_border_right=x1 - frame[2],
        output_backend="svg", toolbar_location=None,
        x_axis_location=None, y_axis_location=None,
        outline_line_color=None, background_fill_color="white",
    )
    h.grid.visible = False

    kx, ky = key
    h.quad(left=[kx], right=[kx + 12], top=[ky], bottom=[ky + 24],
           fill_color="#f1f3f5", line_color=None)
    h.segment(x0=[kx + 6], y0=[ky + 1], x1=[kx + 6], y1=[ky + 12], line_color=IVW_COLOR, line_width=1.5)
    h.segment(x0=[kx + 6], y0=[ky + 13], x1=[kx + 6], y1=[ky + 23], line_color=EGGER_COLOR, line_width=1.5)

    def put(x, y, s, size, color, font=FONT, baseline="middle"):
        h.text(x=[x], y=[y], text=[s], text_font=value(font), text_font_size=value(size),
               text_color=color, text_baseline=baseline, text_align="left")
    put(kx, ky - 6.5, LEGEND_TITLE, "7.4px", "#333333")
    put(kx + 16, ky + 7, METHODS[0], "6.3px", "#444444")
    put(kx + 16, ky + 19, METHODS[1], "6.3px", "#444444")
    put(letter[0], letter[1], name, "20px", "black", "Liberation Serif", "alphabetic")
    return h


def make_panel(name, col, row_idx):
    points, x_labels, y_labels, ivw, egger = PANELS[name]
    x_range, y_range, frame, _, _ = LAYOUT[name]
    left, top, right, bottom = frame
    x0, x1 = COL_EDGES[col], COL_EDGES[col + 1]
    y1 = ROW_EDGES[row_idx + 1]

    p = figure(
        width=x1 - x0, height=y1 - top + TOP_PAD,
        x_range=x_range, y_range=y_range,
        min_border_left=left - x0, min_border_right=x1 - right,
        min_border_top=TOP_PAD, min_border_bottom=y1 - bottom,
        output_backend="svg", toolbar_location=None,
        background_fill_color="#ebebeb", border_fill_color="white",
        outline_line_color=None,
        x_axis_label=X_TITLE, y_axis_label=Y_TITLE,
    )

    x_ticks, x_ticker = ticker_for(x_labels)
    y_ticks, y_ticker = ticker_for(y_labels)
    p.xaxis.ticker = x_ticker
    p.yaxis.ticker = y_ticker
    style_axis(p.xaxis[0], x_labels, x_ticks)
    style_axis(p.yaxis[0], y_labels, y_ticks)
    for grid in (p.xgrid[0], p.ygrid[0]):
        grid.grid_line_color = "white"
        grid.grid_line_width = 1
        grid.minor_grid_line_color = "white"
        grid.minor_grid_line_width = 0.6

    p.add_layout(Span(location=ivw, dimension="height", line_color=IVW_COLOR, line_width=1.6, level="underlay"))
    p.add_layout(Span(location=egger, dimension="height", line_color=EGGER_COLOR, line_width=1.4, level="underlay"))

    xs = [pt[0] for pt in points]
    ys = [pt[1] for pt in points]
    p.scatter(xs, ys, marker="circle", size=3.6, fill_color="black", line_color=None)
    return p


names = "ABCDEFGHIJ"
rows = []
for r in range(5):
    cells = []
    for c in range(2):
        name = names[2 * r + c]
        cells.append(column(make_header(name, c, r), make_panel(name, c, r), spacing=0))
    rows.append(row(*cells, spacing=0))
page = column(*rows, spacing=0)

open("out.html", "w").write(file_html(page, INLINE))
